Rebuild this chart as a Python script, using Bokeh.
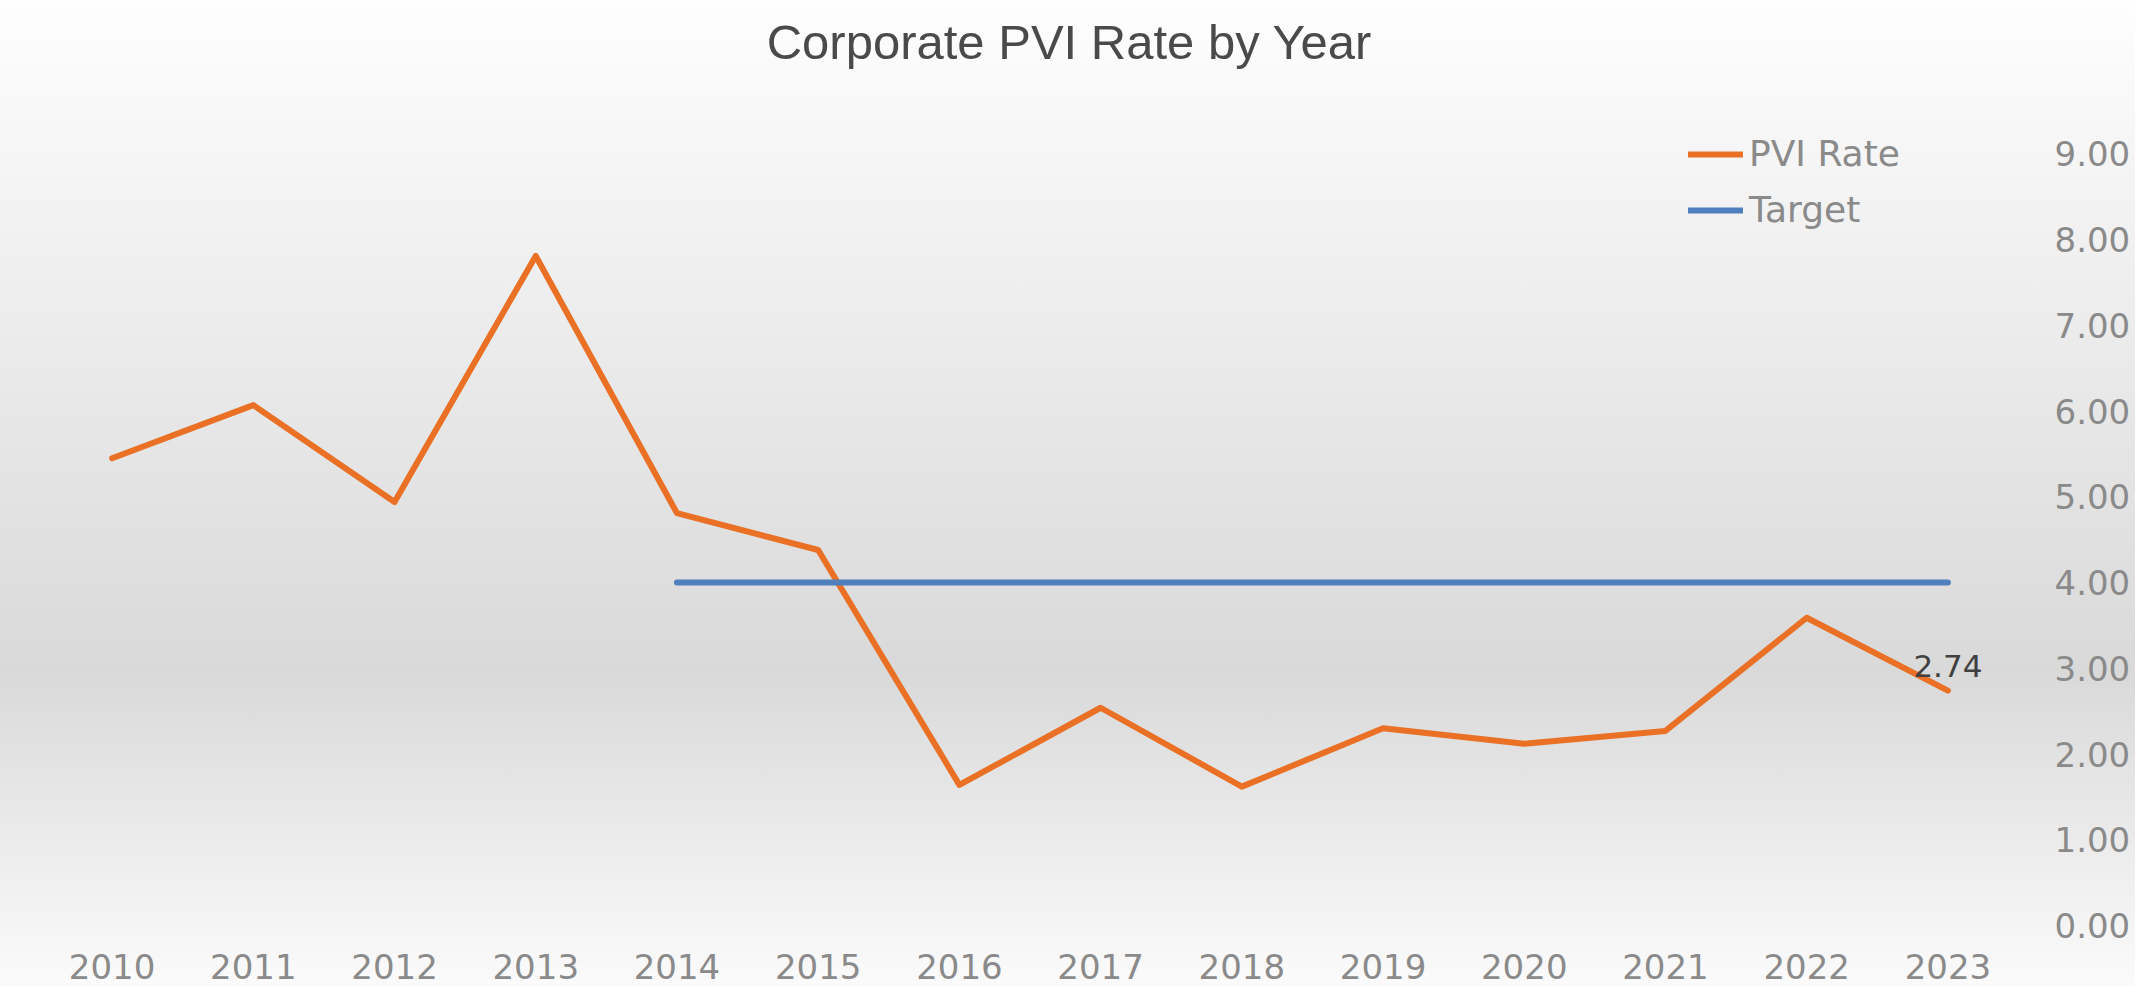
from bokeh.plotting import figure
from bokeh.models import (FactorRange, Range1d, FixedTicker, NumeralTickFormatter,
                          Legend, LegendItem, Label, ColumnDataSource)
from bokeh.embed import file_html
from bokeh.resources import INLINE
from bokeh.core.properties import value

# ---- data ----
years = ["2010", "2011", "2012", "2013", "2014", "2015", "2016",
         "2017", "2018", "2019", "2020", "2021", "2022", "2023"]
pvi_rate = [5.45, 6.07, 4.94, 7.81, 4.81, 4.38, 1.64,
            2.54, 1.62, 2.30, 2.12, 2.27, 3.59, 2.74]
target_years = ["2014", "2015", "2016", "2017", "2018",
                "2019", "2020", "2021", "2022", "2023"]
target = [4.00, 4.00, 4.00, 4.00, 4.00, 4.00, 4.00, 4.00, 4.00, 4.00]
y_ticks = [0, 1, 2, 3, 4, 5, 6, 7, 8, 9]
title_text = "Corporate PVI Rate by Year"

AX_FONT = "DejaVu Sans"
TITLE_FONT = "Liberation Sans"
ORANGE = "#E97024"
BLUE = "#4F7FBD"
GREY = "#8A8A8A"

p = figure(width=2135, height=987,
           x_range=FactorRange(factors=years, range_padding=0),
           y_range=Range1d(0, 10.79),
           y_axis_location="right",
           output_backend="svg", toolbar_location=None,
           min_border_left=41, min_border_right=117,
           min_border_top=0, min_border_bottom=62)
p.styles = {"background": "linear-gradient(to bottom, #fefefe 0%, #d9d9d9 68%, #fbfbfb 100%)"}
p.border_fill_alpha = 0
p.background_fill_alpha = 0
p.outline_line_color = None
p.grid.visible = False

src = ColumnDataSource(dict(x=years, y=pvi_rate))
tsrc = ColumnDataSource(dict(x=target_years, y=target))

r_pvi = p.line("x", "y", source=src, line_color=ORANGE, line_width=6,
               line_cap="round", line_join="round")
r_tgt = p.line("x", "y", source=tsrc, line_color=BLUE, line_width=6,
               line_cap="round", line_join="round")

# data label on last point
lsrc = ColumnDataSource(dict(x=[years[-1]], y=[pvi_rate[-1]],
                             t=[f"{pvi_rate[-1]:.2f}"]))
p.text("x", "y", text="t", source=lsrc, text_align="center",
       text_baseline="alphabetic", y_offset=-25,
       text_font=value(AX_FONT), text_font_size="31px", text_color="#404040")

# axes
xa = p.xaxis[0]
xa.axis_line_color = None
xa.major_tick_line_color = None
xa.minor_tick_line_color = None
xa.major_label_standoff = 22
xa.major_label_text_font = AX_FONT
xa.major_label_text_font_size = "34px"
xa.major_label_text_color = GREY

ya = p.yaxis[0]
ya.ticker = FixedTicker(ticks=y_ticks)
ya.formatter = NumeralTickFormatter(format="0.00")
ya.axis_line_color = None
ya.major_tick_line_color = None
ya.minor_tick_line_color = None
ya.major_label_standoff = 30
ya.major_label_text_font = AX_FONT
ya.major_label_text_font_size = "34px"
ya.major_label_text_color = GREY

# legend
legend = Legend(items=[LegendItem(label="PVI Rate", renderers=[r_pvi]),
                       LegendItem(label="Target", renderers=[r_tgt])],
                location=(1647, 695), orientation="vertical",
                glyph_width=55, glyph_height=40, label_height=40,
                label_standoff=6, spacing=15, padding=0, margin=0,
                label_text_font=AX_FONT, label_text_font_size="36px",
                label_text_color=GREY,
                background_fill_alpha=0, border_line_alpha=0)
p.add_layout(legend)

# title
title = Label(x=1028, y=884, x_units="screen", y_units="screen",
              text=title_text, text_align="center", text_baseline="alphabetic",
              text_font=TITLE_FONT, text_font_size="49px", text_color="#4A4A4A")
p.add_layout(title)

open("out.html", "w").write(file_html(p, INLINE))
